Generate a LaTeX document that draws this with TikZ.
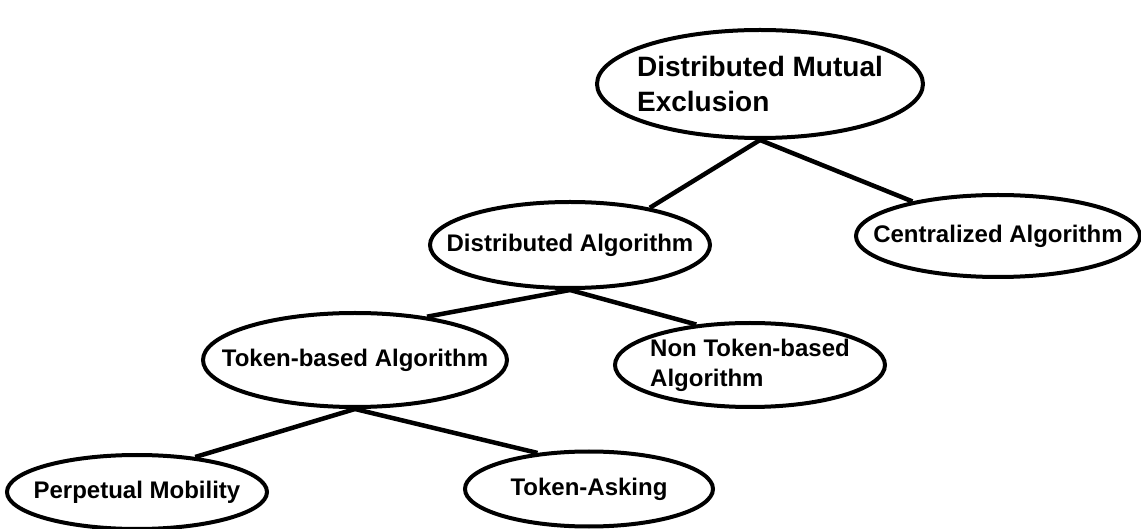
\documentclass[tikz,border=0pt]{standalone}
\usepackage{fontspec}
\setmainfont{Liberation Sans}
\usepackage{tikz}
\usetikzlibrary{shapes.geometric,positioning}

\tikzset{
  blob/.style={ellipse, draw, line width=4pt, inner sep=-60pt, align=left,
    font=\bfseries\fontsize{24}{30}\selectfont},
  link/.style={line width=4.5pt},
}

\begin{document}
\begin{tikzpicture}[x=1pt,y=1pt,on grid]
\useasboundingbox (-760,84) rectangle (381,-445);

\node[blob, minimum width=326pt, minimum height=108pt,
  font=\bfseries\fontsize{28}{35}\selectfont] (dme) {Distributed Mutual\\Exclusion};
\node[blob, minimum width=280pt, minimum height=86pt] (da) [below left=161pt and 190pt of dme] {Distributed Algorithm};
\node[blob, minimum width=284pt, minimum height=82pt] (ca) [below right=152pt and 238pt of dme] {Centralized Algorithm};
\node[blob, minimum width=304pt, minimum height=94pt] (tb) [below left=115pt and 215pt of da] {Token-based Algorithm};
\node[blob, minimum width=270pt, minimum height=84pt] (ntb) [below right=120pt and 180pt of da] {Non Token-based\\Algorithm};
\node[blob, minimum width=260pt, minimum height=74pt] (pm) [below left=132pt and 218pt of tb] {Perpetual Mobility};
\node[blob, minimum width=248pt, minimum height=75pt] (ta) [below right=129pt and 234pt of tb] {Token-Asking};

\path[link]
(dme.south) edge (da.25)
(dme.south) edge (ca.158)
(da.south) edge (tb.31)
(da.south) edge (ntb.143)
(tb.south) edge (pm.31)
(tb.south) edge (ta.145)
; %end path
\end{tikzpicture}
\end{document}
